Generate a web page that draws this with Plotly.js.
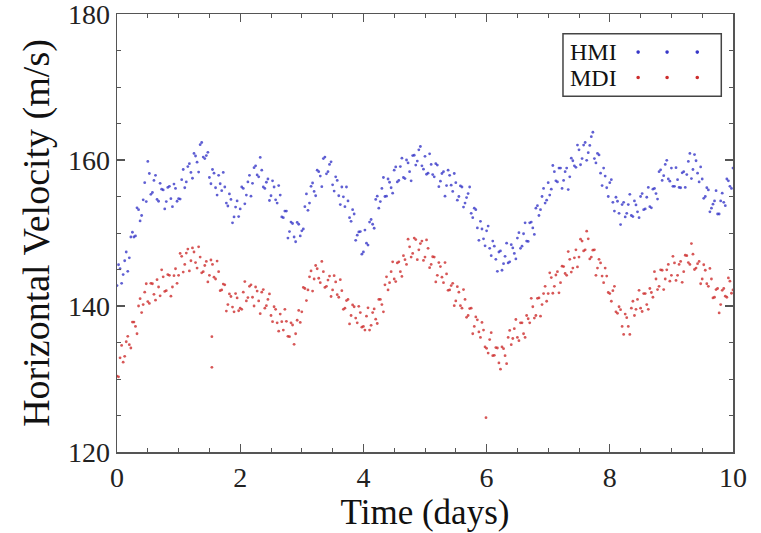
<!DOCTYPE html>
<html>
<head>
<meta charset="utf-8">
<script src="https://cdn.plot.ly/plotly-3.0.1.min.js"></script>
<style>html,body{margin:0;padding:0;background:#fff;}#chart{width:761px;height:533px;}</style>
</head>
<body>
<div id="chart"></div>
<script>
// Time (days), first sample set
const time = [0,0.05,0.1,0.15,0.2,0.25,0.3,0.35,0.4,0.45,0.5,0.55,0.6,0.65,0.7,0.75,0.8,0.85,0.9,0.95,
1,1.05,1.1,1.15,1.2,1.25,1.3,1.35,1.4,1.45,1.5,1.55,1.6,1.65,1.7,1.75,1.8,1.85,1.9,1.95,
2,2.05,2.1,2.15,2.2,2.25,2.3,2.35,2.4,2.45,2.5,2.55,2.6,2.65,2.7,2.75,2.8,2.85,2.9,2.95,
3,3.05,3.1,3.15,3.2,3.25,3.3,3.35,3.4,3.45,3.5,3.55,3.6,3.65,3.7,3.75,3.8,3.85,3.9,3.95,
4,4.05,4.1,4.15,4.2,4.25,4.3,4.35,4.4,4.45,4.5,4.55,4.6,4.65,4.7,4.75,4.8,4.85,4.9,4.95,
5,5.05,5.1,5.15,5.2,5.25,5.3,5.35,5.4,5.45,5.5,5.55,5.6,5.65,5.7,5.75,5.8,5.85,5.9,5.95,
6,6.05,6.1,6.15,6.2,6.25,6.3,6.35,6.4,6.45,6.5,6.55,6.6,6.65,6.7,6.75,6.8,6.85,6.9,6.95,
7,7.05,7.1,7.15,7.2,7.25,7.3,7.35,7.4,7.45,7.5,7.55,7.6,7.65,7.7,7.75,7.8,7.85,7.9,7.95,
8,8.05,8.1,8.15,8.2,8.25,8.3,8.35,8.4,8.45,8.5,8.55,8.6,8.65,8.7,8.75,8.8,8.85,8.9,8.95,
9,9.05,9.1,9.15,9.2,9.25,9.3,9.35,9.4,9.45,9.5,9.55,9.6,9.65,9.7,9.75,9.8,9.85,9.9,9.95,
10];

// Time (days), second (interleaved) sample set
const time2 = [0.025,0.075,0.125,0.175,0.225,0.275,0.325,0.375,0.425,0.475,0.525,0.575,0.625,0.675,0.725,0.775,0.825,0.875,0.925,0.975,
1.025,1.075,1.125,1.175,1.225,1.275,1.325,1.375,1.425,1.475,1.525,1.575,1.625,1.675,1.725,1.775,1.825,1.875,1.925,1.975,
2.025,2.075,2.125,2.175,2.225,2.275,2.325,2.375,2.425,2.475,2.525,2.575,2.625,2.675,2.725,2.775,2.825,2.875,2.925,2.975,
3.025,3.075,3.125,3.175,3.225,3.275,3.325,3.375,3.425,3.475,3.525,3.575,3.625,3.675,3.725,3.775,3.825,3.875,3.925,3.975,
4.025,4.075,4.125,4.175,4.225,4.275,4.325,4.375,4.425,4.475,4.525,4.575,4.625,4.675,4.725,4.775,4.825,4.875,4.925,4.975,
5.025,5.075,5.125,5.175,5.225,5.275,5.325,5.375,5.425,5.475,5.525,5.575,5.625,5.675,5.725,5.775,5.825,5.875,5.925,5.975,
6.025,6.075,6.125,6.175,6.225,6.275,6.325,6.375,6.425,6.475,6.525,6.575,6.625,6.675,6.725,6.775,6.825,6.875,6.925,6.975,
7.025,7.075,7.125,7.175,7.225,7.275,7.325,7.375,7.425,7.475,7.525,7.575,7.625,7.675,7.725,7.775,7.825,7.875,7.925,7.975,
8.025,8.075,8.125,8.175,8.225,8.275,8.325,8.375,8.425,8.475,8.525,8.575,8.625,8.675,8.725,8.775,8.825,8.875,8.925,8.975,
9.025,9.075,9.125,9.175,9.225,9.275,9.325,9.375,9.425,9.475,9.525,9.575,9.625,9.675,9.725,9.775,9.825,9.875,9.925,9.975];

// HMI horizontal velocity (m/s)
const hmi = [142.8,145.1,144.3,147.4,146.6,150.1,149.6,153.2,152.4,156.9,159.8,155.3,157.2,154.6,156.8,155.9,154.3,156.4,153.6,156.1,
154.7,157.3,156.2,159.1,158.3,160.9,159.7,162.1,160.4,160.6,157.6,158.7,156.2,157.9,155.8,156.3,153.7,154.6,152.2,154.4,
153.3,156.1,155.2,157.9,156.8,159.2,157.7,158.6,156.1,157.4,155.1,156.3,154.1,155.2,152.1,153.0,150.2,151.3,148.8,151.2,
150.3,153.6,153.1,156.4,155.7,158.6,157.8,160.2,158.1,159.4,156.6,157.7,155.1,156.3,153.6,154.4,151.6,152.6,149.7,150.2,
147.4,148.6,151.5,151.2,154.6,153.4,156.1,155.0,157.4,156.2,158.6,157.0,159.1,157.6,160.0,158.4,160.6,159.3,161.4,159.2,
160.5,158.2,159.4,157.7,159.3,157.1,158.4,156.5,157.9,155.7,156.9,155.0,156.3,154.1,155.4,152.7,153.4,150.7,151.6,149.2,
150.3,147.9,148.9,146.4,147.4,144.9,146.8,145.9,148.4,147.2,149.3,147.9,149.9,148.9,151.4,150.7,153.4,152.4,155.0,154.1,
156.9,156.0,158.4,157.0,158.9,157.2,158.9,157.7,159.9,159.0,161.4,160.2,162.4,161.0,163.2,160.2,160.9,158.2,158.9,156.2,
156.9,154.2,154.9,152.7,153.9,152.2,153.9,152.4,154.4,152.9,155.0,153.2,154.9,153.6,156.0,155.4,158.4,157.2,159.4,157.4,
158.9,156.4,157.3,156.2,158.4,158.0,160.9,158.7,159.9,157.0,157.4,155.0,155.9,153.4,154.4,152.6,154.4,154.2,157.4,156.4,
158.9];

const hmi2 = [145.65,143.1,146.2,144.75,149.45,149.45,153.45,151.65,154.55,154.3,158.15,155.55,157.9,154.35,156.0,153.3,156.25,154.7,156.7,154.35,
154.65,158.7,157.0,159.5,157.5,160.55,158.35,162.4,160.2,161.05,156.75,158.2,155.2,156.75,158.3,154.1,155.35,151.4,153.55,152.25,
156.3,154.0,157.0,155.05,158.95,157.95,160.35,156.3,156.95,154.45,157.15,154.55,156.5,152.2,153.0,149.3,151.5,149.45,151.45,149.6,
150.55,155.35,154.1,156.85,155.1,158.4,156.35,160.4,158.4,159.75,155.75,157.2,153.9,154.95,156.3,152.1,153.2,149.0,150.15,147.1,
150.4,148.35,151.85,150.65,155.05,154.3,157.6,155.05,156.95,155.45,159.05,157.2,160.25,157.45,159.6,157.15,160.65,159.85,161.85,158.75,
158.05,160.85,158.0,159.5,156.35,158.15,155.05,158.6,156.55,158.15,154.5,156.45,153.55,154.85,156.3,152.1,153.2,149.0,150.55,148.25,
150.95,146.9,148.2,144.75,147.55,145.8,148.6,146.05,147.95,146.45,150.05,148.2,151.4,148.85,151.5,149.8,153.75,153.2,156.1,154.5,
155.2,159.25,157.15,158.9,156.1,158.4,155.95,160.25,159.2,162.05,159.35,162.05,159.95,162.0,163.8,159.6,160.7,156.5,157.8,155.0,
157.3,153.0,154.35,151.15,154.2,152.7,155.3,152.25,153.85,152.1,155.4,153.3,156.25,153.45,156.1,154.65,158.65,157.85,159.95,157.1,
156.4,158.95,156.25,158.25,156.25,159.8,157.45,160.75,158.2,159.05,154.75,156.2,152.9,153.95,155.8,152.6,155.45,153.75,157.15,156.1];

// MDI horizontal velocity (m/s)
const mdi = [130.4,132.9,132.3,135.1,134.7,137.8,137.2,140.0,139.1,141.9,140.6,143.1,141.6,143.6,141.4,144.0,142.1,144.2,142.6,145.1,
144.2,146.8,145.7,147.8,146.2,147.4,145.2,146.7,144.7,146.1,144.2,145.7,143.7,144.7,142.2,142.9,140.2,141.3,139.2,141.1,
139.7,141.9,140.7,142.7,141.2,142.6,140.7,141.9,139.7,140.9,138.7,139.9,137.7,138.9,136.7,137.9,135.8,137.4,136.2,139.4,
139.2,142.4,142.2,144.8,143.7,145.1,143.2,144.7,142.7,144.1,142.2,143.3,141.2,142.1,139.7,140.9,138.7,139.9,137.7,139.1,
137.2,138.6,136.7,139.1,138.2,140.9,140.2,142.9,142.2,144.7,143.7,145.9,144.7,146.9,145.7,148.1,147.2,149.1,147.7,148.9,
146.7,147.9,145.7,146.7,144.2,145.4,143.2,144.4,142.2,143.1,140.7,141.9,139.7,140.9,138.7,139.7,137.2,138.1,135.7,136.7,
134.2,135.4,133.2,134.3,132.2,134.4,133.2,135.7,134.7,136.9,135.7,137.7,136.2,138.7,137.7,139.9,138.7,141.1,140.2,142.7,
141.7,143.9,142.7,144.7,143.2,145.4,144.2,146.4,145.2,147.7,146.7,148.9,147.7,149.2,146.7,147.7,145.2,145.9,143.2,144.1,
141.7,142.1,139.2,139.9,137.2,138.9,137.2,139.7,138.7,140.9,139.7,141.7,140.2,142.4,141.2,143.7,142.7,144.9,143.7,145.7,
144.2,145.9,144.2,146.1,144.7,146.9,145.7,147.1,145.2,146.1,143.7,144.9,142.7,143.7,141.2,142.4,140.2,142.4,141.2,143.4,
142.2];

const mdi2 = [130.3,134.6,133.1,135.85,134.25,137.8,136.2,141.0,140.2,143.05,140.35,143.05,140.8,142.6,144.95,142.0,144.3,141.35,144.15,143.1,
147.2,144.65,147.25,144.8,147.95,145.95,148.1,144.55,145.55,143.3,146.3,143.95,146.15,142.1,143.0,139.3,141.65,139.85,141.7,139.35,
139.55,143.35,141.15,142.9,140.0,142.05,138.95,142.25,140.05,141.65,137.85,139.55,136.55,137.85,139.55,135.85,137.7,134.75,138.05,137.75,
142.55,140.75,144.0,142.05,145.55,143.8,146.1,142.55,143.55,141.3,144.15,141.55,143.6,139.55,140.75,137.55,140.15,138.35,139.95,137.1,
136.7,139.75,137.35,139.6,137.6,140.9,139.2,144.0,143.2,146.05,143.35,146.05,144.05,146.35,149.15,146.7,149.3,146.35,148.55,146.25,
149.05,145.25,146.75,143.3,145.95,143.95,145.95,142.15,142.8,140.05,142.65,140.05,142.25,138.45,139.65,136.2,138.5,136.45,137.75,134.4,
133.55,136.35,133.25,134.25,131.35,134.15,132.1,136.65,135.55,138.15,135.25,137.7,135.7,138.25,141.05,138.35,141.05,138.6,141.7,140.65,
144.55,141.75,144.25,141.8,145.45,144.45,147.45,144.65,146.6,145.35,149.15,147.55,150.25,146.45,147.65,144.2,146.4,144.1,145.2,141.85,
140.65,142.7,139.0,139.5,136.1,138.4,136.1,140.65,139.55,142.15,139.25,141.7,139.55,141.85,144.7,142.25,144.95,142.25,144.95,143.4,
146.8,143.5,145.7,143.25,146.95,145.95,148.55,145.0,145.8,143.05,145.65,143.05,145.15,141.1,142.25,139.05,142.15,141.35,143.85,141.75];

// isolated MDI outliers
const mdiOutTime = [1.54, 1.54, 5.99];
const mdiOutVal = [135.8, 131.6, 124.7];

const xTickVals = [0, 2, 4, 6, 8, 10];
const yTickVals = [120, 140, 160, 180];

const blue = 'rgb(55,55,200)';
const red = 'rgb(205,45,45)';
const axisCol = '#555';
const serif = 'Liberation Serif, Times New Roman, serif';

const traces = [
  {x: time.concat(time2), y: hmi.concat(hmi2), type: 'scatter', mode: 'markers', name: 'HMI',
   marker: {color: blue, size: 2.8, opacity: 0.8}},
  {x: time.concat(time2, mdiOutTime), y: mdi.concat(mdi2, mdiOutVal), type: 'scatter', mode: 'markers', name: 'MDI',
   marker: {color: red, size: 2.8, opacity: 0.8}}
];

function axisBase() {
  return {
    ticks: 'inside', ticklen: 8, tickwidth: 1.2, tickcolor: axisCol,
    showline: true, linecolor: axisCol, linewidth: 1.5, mirror: 'ticks',
    showgrid: false, zeroline: false, fixedrange: true,
    ticklabeloverflow: 'allow',
    tickfont: {family: serif, size: 28, color: '#222'}
  };
}

const xaxis = Object.assign(axisBase(), {
  range: [0, 10], tickmode: 'array', tickvals: xTickVals,
  minor: {dtick: 0.5, tick0: 0, ticks: 'inside', ticklen: 4, tickcolor: axisCol, tickwidth: 1, showgrid: false},
  title: {text: 'Time (days)', font: {family: serif, size: 35, color: '#111'}, standoff: 4}
});
const yaxis = Object.assign(axisBase(), {
  range: [120, 180], tickmode: 'array', tickvals: yTickVals,
  minor: {dtick: 5, tick0: 120, ticks: 'inside', ticklen: 4, tickcolor: axisCol, tickwidth: 1, showgrid: false},
  title: {text: 'Horizontal Velocity (m/s)', font: {family: serif, size: 38, color: '#111'}, standoff: 6}
});

// hand-built legend (text first, three dots after)
const legendShapes = [
  {type: 'rect', xref: 'paper', yref: 'paper', x0: 0.724, x1: 0.981, y0: 0.812, y1: 0.955,
   line: {color: '#444', width: 1.5}, fillcolor: 'white', layer: 'above'}
];
const dotX = [0.846, 0.893, 0.942];
const rows = [{y: 0.913, col: blue}, {y: 0.855, col: red}];
rows.forEach(r => dotX.forEach(dx => legendShapes.push({
  type: 'circle', xref: 'paper', yref: 'paper', xsizemode: 'pixel', ysizemode: 'pixel',
  xanchor: dx, yanchor: r.y, x0: -1.8, x1: 1.8, y0: -1.8, y1: 1.8,
  fillcolor: r.col, line: {width: 0}, layer: 'above'
})));

const annotations = [
  {xref: 'paper', yref: 'paper', x: 0.733, y: 0.913, xanchor: 'left', yanchor: 'middle', showarrow: false,
   text: 'HMI', font: {family: serif, size: 24, color: '#111'}, borderpad: 0},
  {xref: 'paper', yref: 'paper', x: 0.733, y: 0.855, xanchor: 'left', yanchor: 'middle', showarrow: false,
   text: 'MDI', font: {family: serif, size: 24, color: '#111'}, borderpad: 0}
];

const layout = {
  width: 761, height: 533,
  margin: {l: 117, r: 28, t: 14, b: 81},
  paper_bgcolor: 'white', plot_bgcolor: 'white',
  showlegend: false,
  xaxis: xaxis, yaxis: yaxis,
  shapes: legendShapes, annotations: annotations
};

Plotly.newPlot('chart', traces, layout, {displayModeBar: false, staticPlot: true});
</script>
</body>
</html>
